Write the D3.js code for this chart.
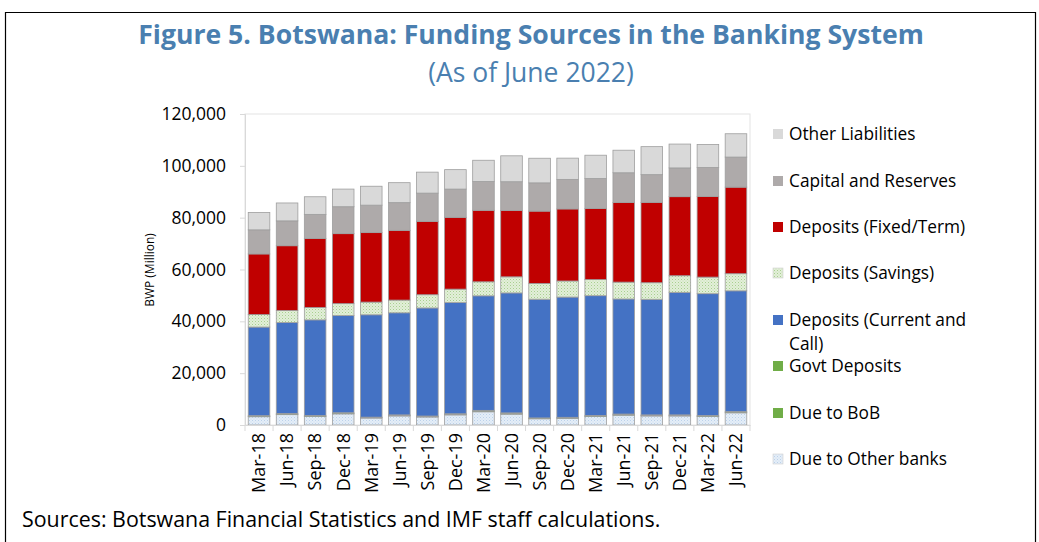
<!DOCTYPE html>
<html>
<head>
<meta charset="utf-8">
<script src="https://cdn.jsdelivr.net/npm/d3@7"></script>
<style>
  html, body { margin: 0; padding: 0; background: #fff; }
  svg { display: block; font-family: "Open Sans", "Noto Sans", sans-serif; }
</style>
</head>
<body>
<svg id="chart" width="1039" height="542"></svg>
<script>
// Quarterly funding sources of Botswana's banking system, BWP million
const periods = ["Mar-18","Jun-18","Sep-18","Dec-18","Mar-19","Jun-19","Sep-19","Dec-19",
  "Mar-20","Jun-20","Sep-20","Dec-20","Mar-21","Jun-21","Sep-21","Dec-21","Mar-22","Jun-22"];

const dueOtherBanks = [3200,4000,3300,4300,2700,3500,3100,3900,5100,4200,2400,2600,3300,3800,3500,3500,3300,4700];
const dueBoB        = [100,120,90,110,80,100,90,110,150,120,80,90,100,110,100,100,90,130];
const govtDeposits  = [300,350,280,320,250,300,280,320,400,350,250,280,300,320,300,300,280,350];
const currentCall   = [34200,35100,36900,37500,39500,39400,41700,42900,44200,46300,45800,46400,46200,44400,44600,47300,47000,46600];
const savings       = [4800,4600,4800,4600,4900,4900,5100,5200,5400,6200,6100,6200,6200,6500,6400,6400,6400,6600];
const fixedTerm     = [23400,25000,26600,27000,26800,26900,28300,27700,27600,25600,27900,27800,27400,30700,31000,30500,31100,33400];
const capitalReserves = [9300,9600,9300,10400,10600,10700,10900,10900,11100,11100,10900,11400,11600,11500,10700,11100,11200,11600];
const otherLiabilities = [6700,6900,6800,6800,7300,7700,8100,7500,8200,10000,9500,8200,9000,8700,10800,9200,8900,9000];

const yTicks = [0,20000,40000,60000,80000,100000,120000];

// stacking order, bottom to top
const seriesDefs = [
  { key: "dueOther", label: "Due to Other banks", values: dueOtherBanks, fill: "url(#patBlue)" },
  { key: "bob", label: "Due to BoB", values: dueBoB, fill: "#70ad47" },
  { key: "govt", label: "Govt Deposits", values: govtDeposits, fill: "#70ad47" },
  { key: "current", label: "Deposits (Current and Call)", values: currentCall, fill: "#4472c4" },
  { key: "savings", label: "Deposits (Savings)", values: savings, fill: "url(#patGreen)" },
  { key: "fixed", label: "Deposits (Fixed/Term)", values: fixedTerm, fill: "#c00000" },
  { key: "capital", label: "Capital and Reserves", values: capitalReserves, fill: "#aeaaaa" },
  { key: "other", label: "Other Liabilities", values: otherLiabilities, fill: "#d9d9d9" }
];

const rows = periods.map((p, i) => {
  const r = { period: p };
  seriesDefs.forEach(s => r[s.key] = s.values[i]);
  return r;
});

const svg = d3.select("#chart");
const defs = svg.append("defs");

// hatched fills
const pb = defs.append("pattern").attr("id", "patBlue").attr("patternUnits", "userSpaceOnUse")
  .attr("width", 3).attr("height", 3);
pb.append("rect").attr("width", 3).attr("height", 3).attr("fill", "#e4eef8");
pb.append("rect").attr("x", 0).attr("y", 0).attr("width", 1).attr("height", 1).attr("fill", "#bcd1ea");
pb.append("rect").attr("x", 1.5).attr("y", 1.5).attr("width", 1).attr("height", 1).attr("fill", "#cddcef");

const pg = defs.append("pattern").attr("id", "patGreen").attr("patternUnits", "userSpaceOnUse")
  .attr("width", 3).attr("height", 3);
pg.append("rect").attr("width", 3).attr("height", 3).attr("fill", "#e2efd9");
pg.append("rect").attr("x", 0).attr("y", 0).attr("width", 1).attr("height", 1).attr("fill", "#a9cf8f");
pg.append("rect").attr("x", 1.5).attr("y", 1.5).attr("width", 1).attr("height", 1).attr("fill", "#c2dcae");

// frame
svg.append("path")
  .attr("d", "M5.5,560 V12.5 H1035.5 V560")
  .attr("fill", "none").attr("stroke", "#000").attr("stroke-width", 1.2);

// titles
svg.append("text").attr("x", 531).attr("y", 44).attr("text-anchor", "middle")
  .attr("font-size", 26.6).attr("font-weight", 700).attr("fill", "#4a7fb0")
  .text("Figure 5. Botswana: Funding Sources in the Banking System");
svg.append("text").attr("x", 531).attr("y", 82).attr("text-anchor", "middle")
  .attr("font-size", 26.5).attr("fill", "#4a7fb0")
  .text("(As of June 2022)");

const margin = { left: 245, right: 750, top: 114, bottom: 425 };

const x = d3.scaleBand().domain(periods).range([margin.left, margin.right]).paddingInner(0.23).paddingOuter(0.115);
const y = d3.scaleLinear().domain([0, 120000]).range([margin.bottom, margin.top]);

// plot border
svg.append("rect").attr("x", margin.left).attr("y", margin.top)
  .attr("width", margin.right - margin.left).attr("height", margin.bottom - margin.top)
  .attr("fill", "none").attr("stroke", "#e3e3e3").attr("stroke-width", 1);

const stack = d3.stack().keys(seriesDefs.map(s => s.key));
const stacked = stack(rows);

const g = svg.append("g");
g.selectAll("g.layer").data(stacked).join("g").attr("class", "layer")
  .attr("fill", (d, i) => seriesDefs[i].fill)
  .selectAll("rect").data(d => d).join("rect")
  .attr("x", d => x(d.data.period))
  .attr("width", x.bandwidth())
  .attr("y", d => y(d[1]))
  .attr("height", d => y(d[0]) - y(d[1]))
  .attr("stroke", "#9e9e9e").attr("stroke-width", 0.8);

// y axis
const yAxis = d3.axisLeft(y).tickValues(yTicks).tickFormat(d3.format(",")).tickSize(5).tickPadding(14);
const ya = svg.append("g").attr("transform", `translate(${margin.left},0)`).call(yAxis);
ya.select(".domain").attr("stroke", "#d9d9d9");
ya.selectAll(".tick line").attr("stroke", "#d9d9d9");
ya.selectAll(".tick text").attr("font-size", 17.5).attr("fill", "#000").attr("font-family", "'Open Sans', sans-serif");

// x axis with category separator ticks
const xa = svg.append("g").attr("transform", `translate(0,${margin.bottom})`)
  .call(d3.axisBottom(x).tickSize(0).tickPadding(0));
xa.select(".domain").attr("stroke", "#d9d9d9");
xa.selectAll(".tick text")
  .attr("font-size", 18).attr("fill", "#000").attr("font-family", "'Open Sans', sans-serif")
  .attr("text-anchor", "end")
  .attr("transform", "rotate(-90)")
  .attr("x", -8).attr("y", 0).attr("dy", "0.35em");
const seps = d3.range(periods.length + 1).map(i => margin.left + i * (margin.right - margin.left) / periods.length);
xa.selectAll("line.sep").data(seps).join("line").attr("class", "sep")
  .attr("x1", d => d).attr("x2", d => d).attr("y1", 0).attr("y2", 6)
  .attr("stroke", "#d9d9d9");

// y axis title
svg.append("text").attr("transform", "translate(154,270) rotate(-90)")
  .attr("text-anchor", "middle").attr("font-size", 12).attr("fill", "#000")
  .text("BWP (Million)");

// legend, top to bottom
const legendItems = seriesDefs.slice().reverse();
const legendY = [134, 181, 227, 273, 320, 366, 413, 459];
const lg = svg.append("g");
legendItems.forEach((s, i) => {
  const yy = legendY[i];
  lg.append("rect").attr("x", 773).attr("y", yy - 5).attr("width", 10).attr("height", 10)
    .attr("fill", s.fill).attr("stroke", s.fill.startsWith("url") ? "#cfcfcf" : "none").attr("stroke-width", 0.6);
  const t = lg.append("text").attr("x", 789).attr("y", yy).attr("dy", "0.35em")
    .attr("font-size", 17.3).attr("fill", "#000");
  if (s.key === "current") {
    t.append("tspan").attr("x", 789).text("Deposits (Current and");
    t.append("tspan").attr("x", 789).attr("dy", 24).text("Call)");
  } else {
    t.text(s.label);
  }
});

// source note
svg.append("text").attr("x", 22).attr("y", 527).attr("font-size", 21.4).attr("fill", "#000")
  .text("Sources: Botswana Financial Statistics and IMF staff calculations.");
</script>
</body>
</html>
